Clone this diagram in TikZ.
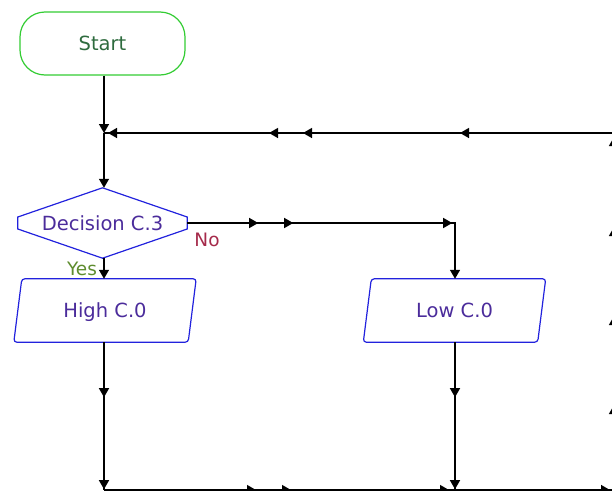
\documentclass[tikz,border=0pt]{standalone}
\usepackage{fontspec}
\setmainfont{DejaVu Sans}
\usetikzlibrary{arrows.meta,decorations.markings,calc}
\definecolor{startgreen}{HTML}{33CC33}
\definecolor{starttext}{HTML}{2E6B3E}
\definecolor{boxblue}{HTML}{2222DD}
\definecolor{boxtext}{HTML}{4B2C9B}
\definecolor{nored}{HTML}{A52A4A}
\definecolor{yesgreen}{HTML}{5E8C2E}
\begin{document}
\begin{tikzpicture}[x=1pt,y=-1pt,
  conn/.style={draw=black, line width=1.4pt},
  endtip/.style={-{Triangle[length=9pt,width=10pt]}},
  am/.style={postaction={decorate,decoration={markings,mark=at position #1 with {\arrow{Triangle[length=9pt,width=10pt]}}}}},
  lbl/.style={font=\fontsize{19.5}{22}\selectfont, inner sep=0pt, text height=14pt, text depth=0pt},
  outline/.style={draw=boxblue, line width=1.2pt},
  boxnode/.style={lbl, text=boxtext, minimum width=182pt, minimum height=63pt}
]
\useasboundingbox (0,0) rectangle (612,490);
\clip (0,0) rectangle (612,490);

% nodes
\node[lbl, text=starttext, draw=startgreen, line width=1.2pt, rounded corners=25pt,
      minimum width=165pt, minimum height=63pt] (start) at (102.5,43.5) {Start};
\node[lbl, text=boxtext, minimum width=169pt, minimum height=70pt] (dec) at (102.5,223) {Decision C.3};
\draw[outline] ($(dec.west)+(0,-6)$) -- (dec.north) -- ($(dec.east)+(0,-6)$) -- ($(dec.east)+(0,6)$)
      -- (dec.south) -- ($(dec.west)+(0,6)$) -- cycle;
\node[boxnode] (high) at (105,310.5) {High C.0};
\draw[outline, rounded corners=3pt] ($(high.north west)+(8,0)$) -- (high.north east)
      -- ($(high.south east)+(-8,0)$) -- (high.south west) -- cycle;
\node[boxnode] (low) at (454.5,310.5) {Low C.0};
\draw[outline, rounded corners=3pt] ($(low.north west)+(8,0)$) -- (low.north east)
      -- ($(low.south east)+(-8,0)$) -- (low.south west) -- cycle;

\coordinate (j1) at (104,133);
\coordinate (bj) at (104,490);
\coordinate (lj) at (455,490);
\coordinate (br) at (614,490);
\coordinate (tr) at (614,133);

% connectors
\draw[conn, endtip] (start.south -| j1) -- (j1);
\draw[conn, endtip] (j1) -- (dec.north -| j1);
\draw[conn, endtip] (dec.south -| j1) -- (high.north -| j1);
\node[lbl, text=yesgreen, font=\fontsize{18.5}{22}\selectfont] (yes) at (82,268) {Yes};
\draw[conn, endtip, am=71pt, am=106pt, am=265pt] (dec.east) -- (dec.east -| lj) -- (low.north -| lj);
\node[lbl, text=nored, font=\fontsize{18.5}{22}\selectfont] (no) at (207,239) {No};
\draw[conn, am=55pt, am=147pt] (high.south -| j1) -- (bj);
\draw[conn, am=55pt, am=147pt] (low.south -| lj) -- (lj);
\draw[conn, am=152pt, am=187pt, am=345pt, am=506pt] (bj) -- (br);
\draw[conn, am=85pt, am=174pt, am=263pt, am=353pt] (br) -- (tr);
\draw[conn, am=154pt, am=311pt, am=345pt, am=506pt] (tr) -- (j1);
\end{tikzpicture}
\end{document}
